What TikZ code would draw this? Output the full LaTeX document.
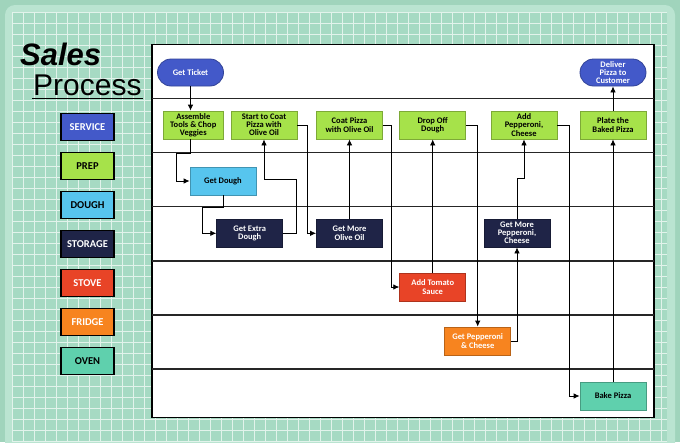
\documentclass[tikz,border=0pt]{standalone}
\usepackage{fontspec}
\newfontfamily\boxfont{Carlito}
\newfontfamily\headfont{Liberation Sans}
\usetikzlibrary{arrows.meta}
\definecolor{mintback}{RGB}{160,212,188}
\definecolor{mintframe}{RGB}{186,228,209}
\definecolor{mintcell}{RGB}{166,218,195}
\definecolor{gridwhite}{RGB}{226,243,235}
\definecolor{serviceblue}{RGB}{67,89,201}
\definecolor{prepgreen}{RGB}{166,226,74}
\definecolor{doughblue}{RGB}{87,197,238}
\definecolor{storagenavy}{RGB}{31,36,71}
\definecolor{stovered}{RGB}{232,68,39}
\definecolor{fridgeorange}{RGB}{247,132,31}
\definecolor{oventeal}{RGB}{95,208,173}
\begin{document}
\begin{tikzpicture}[x=1pt, y=-1pt,
		task/.style={draw=#1!75!black, fill=#1, line width=0.8pt, minimum width=66pt, minimum height=28pt,
			inner sep=1.5pt, align=center, font=\boxfont\bfseries\fontsize{8.5}{8.2}\selectfont},
		darktask/.style={task=#1, text=white},
		pill/.style={task=#1, text=white, rounded corners=13.5pt, minimum height=27pt},
		key/.style={draw=black, line width=1.2pt, fill=#1, minimum width=53pt, minimum height=27pt,
			inner sep=0pt, font=\boxfont\bfseries\fontsize{10.5}{10.5}\selectfont},
		flow/.style={line width=0.8pt, -{Latex[length=6pt,width=5.5pt]}},
		lane/.style={line width=1.4pt, black!85}]
	\useasboundingbox (0,0) rectangle (680,442);
	% paper
	\fill[mintback] (0,0) rectangle (680,442);
	\fill[mintframe, rounded corners=10pt] (5,5) rectangle (675,470);
	\fill[mintcell] (12,12) rectangle (667,442);
	\foreach \gx in {12,23,...,667} \draw[gridwhite, line width=1pt] (\gx,12) -- (\gx,442);
	\foreach \gy in {12,23,...,442} \draw[gridwhite, line width=1pt] (12,\gy) -- (667,\gy);
	% title
	\node[anchor=base west, inner sep=0pt, font=\headfont\bfseries\itshape\fontsize{31}{31}\selectfont] (salesword) at (20,65) {Sales};
	\node[anchor=base west, inner sep=0pt, font=\headfont\fontsize{30}{30}\selectfont] (processword) at (33,95) {Process};
	\draw[line width=1.6pt] ([xshift=-1pt, yshift=-3.3pt]processword.base west) -- ([xshift=1pt, yshift=-3.3pt]processword.base east);
	% legend
	\node[key=serviceblue, text=white] (keyservice) at (87.5,127) {SERVICE};
	\node[key=prepgreen] (keyprep) at (87.5,166) {PREP};
	\node[key=doughblue] (keydough) at (87.5,204.7) {DOUGH};
	\node[key=storagenavy, text=white] (keystorage) at (87.5,243.7) {STORAGE};
	\node[key=stovered, text=white] (keystove) at (87.5,283) {STOVE};
	\node[key=fridgeorange, text=white] (keyfridge) at (87.5,322) {FRIDGE};
	\node[key=oventeal] (keyoven) at (87.5,361) {OVEN};
	% lanes
	\draw[fill=white, line width=1.6pt] (152,44.5) rectangle (654,417.5);
	\foreach \ly in {98.5,152.5,206.5,261,315,369} \draw[lane] (152,\ly) -- (654,\ly);
	% service
	\node[pill=serviceblue] (ticket) at (190.5,72.5) {Get Ticket};
	\node[pill=serviceblue] (deliver) at (613,72.5) {Deliver\\Pizza to\\Customer};
	% prep
	\node[task=prepgreen, minimum width=60pt] (assemble) at (193.3,125) {Assemble\\Tools \& Chop\\Veggies};
	\node[task=prepgreen] (startcoat) at (264,125) {Start to Coat\\Pizza with\\Olive Oil};
	\node[task=prepgreen] (coat) at (349.5,125) {Coat Pizza\\with Olive Oil};
	\node[task=prepgreen] (drop) at (432.7,125) {Drop Off\\Dough};
	\node[task=prepgreen] (addpep) at (524,125) {Add\\Pepperoni,\\Cheese};
	\node[task=prepgreen] (plate) at (613,125) {Plate the\\Baked Pizza};
	% dough, storage, stove, fridge, oven
	\node[task=doughblue] (getdough) at (223,181) {Get Dough};
	\node[darktask=storagenavy] (extra) at (249.7,233.3) {Get Extra\\Dough};
	\node[darktask=storagenavy] (oil) at (349.5,233.3) {Get More\\Olive Oil};
	\node[darktask=storagenavy] (pepstore) at (517,233) {Get More\\Pepperoni,\\Cheese};
	\node[darktask=stovered] (tomato) at (432.7,287) {Add Tomato\\Sauce};
	\node[darktask=fridgeorange] (pepfridge) at (477.7,341) {Get Pepperoni\\\& Cheese};
	\node[task=oventeal] (bake) at (613,396) {Bake Pizza};
	% flow
	\draw[flow] (ticket.south) -- (ticket.south |- assemble.north);
	\draw[flow] (ticket.south |- assemble.south) -- ++(0,14) -| ([xshift=-13pt]getdough.west) -- (getdough.west);
	\draw[flow] (getdough.south) -- ++(0,11.5) -| ([xshift=-13.5pt]extra.west) -- (extra.west);
	\draw[flow] (extra.east) -- ++(13,0) -- ++(0,-54) -| (startcoat.south);
	\draw[flow] (startcoat.east) -- ++(10,0) |- (oil.west);
	\draw[flow] (oil.north) -- (coat.south);
	\draw[flow] (coat.east) -- ++(8.5,0) |- (tomato.west);
	\draw[flow] (tomato.north) -- (drop.south);
	\draw[flow] (drop.east) -| (pepfridge.north);
	\draw[flow] (pepfridge.east) -| (pepstore.south);
	\draw[flow] (pepstore.north) -- ++(0,-40.5) -| (addpep.south);
	\draw[flow] (addpep.east) -- ++(11.5,0) |- (bake.west);
	\draw[flow] (bake.north) -- (plate.south);
	\draw[flow] (plate.north) -- (deliver.south);
\end{tikzpicture}
\end{document}
